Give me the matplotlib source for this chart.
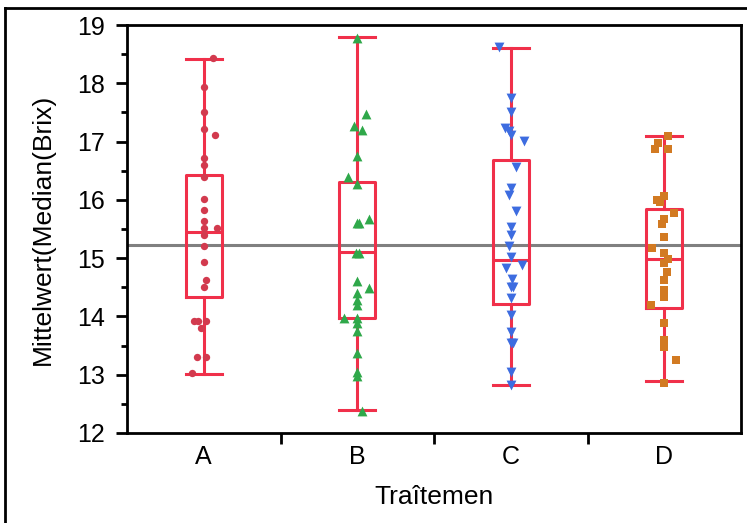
import matplotlib
matplotlib.use("Agg")
import matplotlib.pyplot as plt
from matplotlib.lines import Line2D
from matplotlib.ticker import MultipleLocator, FixedLocator, NullFormatter

plt.rcParams['font.family'] = ['Liberation Sans', 'DejaVu Sans']

groups = ["A", "B", "C", "D"]

# box statistics (whiskers = min / max)
whisker_low = [13.01, 12.39, 12.82, 12.89]
q1 = [14.34, 13.98, 14.21, 14.14]
median = [15.44, 15.11, 14.96, 14.99]
q3 = [16.43, 16.30, 16.69, 15.84]
whisker_high = [18.42, 18.80, 18.61, 17.09]
grand_mean = 15.22

# raw points per group
values_A = [18.43, 17.93, 17.50, 17.22, 17.11, 16.72, 16.60, 16.40, 16.02, 15.83,
            15.63, 15.52, 15.51, 15.40, 15.20, 14.93, 14.62, 14.50, 13.92, 13.92,
            13.92, 13.80, 13.30, 13.30, 13.03]
values_B = [18.77, 17.47, 17.27, 17.19, 16.75, 16.39, 16.27, 15.61, 15.61, 15.68,
            15.08, 15.08, 14.60, 14.48, 14.40, 14.28, 14.20, 13.97, 13.97, 13.88,
            13.75, 13.37, 13.05, 12.97, 12.37]
values_C = [18.63, 17.74, 17.50, 17.23, 17.18, 17.11, 17.01, 16.57, 16.21, 16.09,
            15.81, 15.53, 15.40, 15.20, 15.02, 14.89, 14.83, 14.64, 14.51, 14.51,
            14.31, 14.02, 13.74, 13.54, 13.54, 13.05, 12.82]
values_D = [17.09, 16.98, 16.88, 16.87, 16.07, 16.00, 15.97, 15.78, 15.67, 15.59,
            15.36, 15.17, 15.09, 14.99, 14.91, 14.77, 14.63, 14.46, 14.34, 14.20,
            13.88, 13.60, 13.48, 13.26, 12.86]

# horizontal jitter of each point, in pixels
jitter_A = [9, 0, 0, 0, 11, 0, 0, 0, 0, 0, 0, 0, 13, 0, 0, 0, 2, 0, -10, -6, 2, -3, -7, 2, -12]
jitter_B = [0, 9, -3, 5, 0, -9, 0, 0, 2, 12, -1, 2, 0, 12, 0, 0, 0, -13, 0, 0, 0, 0, 0, 0, 5]
jitter_C = [-12, 0, 0, -6, -2, 0, 13, 5, 0, -2, 5, 0, 0, -2, 0, 11, -5, 1, 0, 2,
            0, 0, 0, 0, 2, 0, 0]
jitter_D = [4, -6, -9, 4, 0, -7, -4, 10, 0, -2, 0, -12, 0, 4, 0, 3, 0, 0, 0, -13,
            0, 0, 0, 12, 0]

point_colors = ["#D23A4E", "#2FA84A", "#3D6CE0", "#D27A22"]
point_markers = ["o", "^", "v", "s"]
point_sizes = [28, 50, 50, 36]
box_color = "#F0304A"

fig = plt.figure(figsize=(7.47, 5.23), dpi=100)
ax = fig.add_axes([127 / 747, 90 / 523, 614 / 747, 408 / 523])

stats = []
for i, g in enumerate(groups):
    stats.append({"label": g, "whislo": whisker_low[i], "q1": q1[i], "med": median[i],
                  "q3": q3[i], "whishi": whisker_high[i], "fliers": []})

line_kw = dict(color=box_color, linewidth=2.2)
ax.bxp(stats, positions=[1, 2, 3, 4], widths=0.235, capwidths=0.235, showfliers=False,
       boxprops=line_kw, whiskerprops=line_kw, capprops=line_kw, medianprops=line_kw,
       zorder=2)

ax.axhline(grand_mean, color="#808080", linewidth=2.2, zorder=1.5)

px = 1 / 153.5
all_vals = [values_A, values_B, values_C, values_D]
all_jit = [jitter_A, jitter_B, jitter_C, jitter_D]
for i in range(4):
    xs = [i + 1 + j * px for j in all_jit[i]]
    ax.scatter(xs, all_vals[i], s=point_sizes[i], marker=point_markers[i],
               color=point_colors[i], linewidths=0, zorder=3, clip_on=False)

ax.set_xlim(0.5, 4.5)
ax.set_ylim(12, 19)

ax.xaxis.set_major_locator(FixedLocator([1.5, 2.5, 3.5]))
ax.xaxis.set_major_formatter(NullFormatter())
ax.xaxis.set_minor_locator(FixedLocator([1, 2, 3, 4]))
ax.set_xticklabels(groups, minor=True)
ax.tick_params(axis="x", which="major", direction="out", length=8, width=2)
ax.tick_params(axis="x", which="minor", length=0, pad=9, labelsize=18)

ax.yaxis.set_major_locator(MultipleLocator(1))
ax.yaxis.set_minor_locator(MultipleLocator(0.5))
ax.tick_params(axis="y", which="major", direction="out", length=8, width=2, pad=8,
               labelsize=18)
ax.tick_params(axis="y", which="minor", direction="out", length=4, width=2)

for s in ax.spines.values():
    s.set_linewidth(2)

ax.set_xlabel("Traîtemen", fontsize=19, labelpad=11)
ax.set_ylabel("Mittelwert(Median(Brix)", fontsize=19, labelpad=16)

# outer frame around the figure (top and left edges visible)
fig.add_artist(Line2D([5 / 747, 1], [1 - 8 / 523, 1 - 8 / 523], color="black", linewidth=2))
fig.add_artist(Line2D([5 / 747, 5 / 747], [0, 1 - 8 / 523], color="black", linewidth=2))

fig.savefig("out.png", dpi=100)
